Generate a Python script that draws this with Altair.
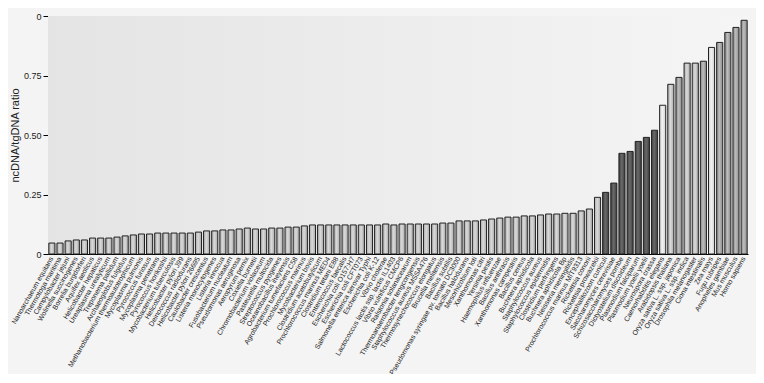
import altair as alt
import pandas as pd

species = [
    "Nanoarchaeum equitans", "Thermotoga maritima", "Campylobacter jejuni", "Wolinella succinogenes",
    "Borrelia burgdorferi", "Aquifex aeolicus", "Helicobacter hepaticus", "Ureaplasma urealyticum",
    "Treponema pallidum", "Archaeoglobus fulgidus", "Methanobacterium thermoautotrophicum",
    "Mycoplasma pulmonis", "Pyrococcus furiosus", "Mycoplasma penetrans", "Pyrococcus horikoshii",
    "Mycobacterium tuberculosis", "Helicobacter pylori J99", "Deinococcus radiodurans",
    "Helicobacter pylori 26695", "Caulobacter crescentus", "Listeria monocytogenes", "Listeria innocua",
    "Fusobacterium nucleatum", "Pseudomonas aeruginosa", "Aeropyrum pernix", "Coxiella burnetii",
    "Chromobacterium violaceum", "Pasteurella multocida", "Streptococcus pyogenes",
    "Oceanobacillus iheyensis", "Agrobacterium tumefaciens C58", "Prochlorococcus marinus",
    "Mycobacterium bovis", "Clostridium acetobutylicum", "Prochlorococcus marinus MED4",
    "Clostridium tetani E88", "Enterococcus faecalis", "Escherichia coli O157:H7",
    "Escherichia coli CFT073", "Salmonella enterica serovar Typhi", "Escherichia coli K-12",
    "Vibrio cholerae", "Lactococcus lactis ssp. lactis IL1403", "Vibrio vulnificus CMCP6",
    "Ralstonia solanacearum", "Thermoanaerobacter tengcongensis", "Staphylococcus aureus MSSA476",
    "Thermosynechococcus elongatus", "Brucella melitensis", "Bacillus subtilis",
    "Pseudomonas syringae pv. tomato DC3000", "Bacillus halodurans", "Mesorhizobium loti",
    "Xanthomonas citri", "Yersinia pestis", "Haemophilus influenzae", "Bacillus anthracis",
    "Xanthomonas campestris", "Bacillus cereus", "Buchnera aphidicola", "Staphylococcus aureus",
    "Staphylococcus epidermidis", "Clostridium perfringens", "Buchnera aphidicola Bp",
    "Neisseria meningitidis", "Prochlorococcus marinus MIT9313", "Rickettsia conorii",
    "Rickettsia prowazekii", "Encephalitozoon cuniculi", "Saccharomyces cerevisiae",
    "Schizosaccharomyces pombe", "Dictyostelium discoideum", "Plasmodium falciparum",
    "Plasmodium yoelii yoelii", "Neurospora crassa", "Caenorhabditis elegans", "Arabidopsis thaliana",
    "Oryza sativa L. ssp. japonica", "Oryza sativa L. ssp. indica", "Drosophila melanogaster",
    "Ciona intestinalis", "Zea mays", "Fugu rubripes", "Anopheles gambiae", "Mus musculus",
    "Homo sapiens",
]

ratio = [
    0.046, 0.046, 0.055, 0.059, 0.059, 0.067, 0.067, 0.067, 0.071, 0.076,
    0.080, 0.084, 0.084, 0.088, 0.088, 0.088, 0.088, 0.088, 0.092, 0.097,
    0.097, 0.101, 0.101, 0.105, 0.109, 0.105, 0.105, 0.109, 0.109, 0.113,
    0.113, 0.118, 0.122, 0.122, 0.122, 0.122, 0.122, 0.122, 0.122, 0.122,
    0.122, 0.126, 0.122, 0.126, 0.126, 0.126, 0.126, 0.126, 0.130, 0.130,
    0.139, 0.139, 0.139, 0.143, 0.147, 0.151, 0.155, 0.155, 0.160, 0.160,
    0.164, 0.168, 0.168, 0.171, 0.171, 0.181, 0.189, 0.238, 0.259, 0.298,
    0.423, 0.431, 0.473, 0.490, 0.520, 0.625, 0.713, 0.742, 0.802, 0.802,
    0.810, 0.868, 0.889, 0.931, 0.952, 0.982,
]

tone = (["light"] * 68 + ["dark"] * 7 +
        ["pale", "light", "mid", "light", "light", "mid", "pale", "mid", "mid", "mid", "mid"])

y_ticks = [0, 0.25, 0.5, 0.75, 1]

tone_colors = {
    "light": ("#a9a9a9", "#dadada"),
    "dark": ("#3e3e3e", "#6a6a6a"),
    "pale": ("#cfcfcf", "#f2f2f2"),
    "mid": ("#888888", "#bdbdbd"),
}

df = pd.DataFrame({"species": species, "ratio": ratio, "tone": tone})


def grad(edge, center):
    return alt.LinearGradient(
        gradient="linear", x1=0, x2=1, y1=0, y2=0,
        stops=[alt.GradientStop(color=edge, offset=0),
               alt.GradientStop(color=center, offset=0.45),
               alt.GradientStop(color=edge, offset=1)],
    )


W, H = 700, 238

bg = alt.Chart(pd.DataFrame({"k": [0]})).mark_rect(
    color=alt.LinearGradient(
        gradient="linear", x1=0, x2=1, y1=0, y2=0,
        stops=[alt.GradientStop(color="#e4e4e4", offset=0),
               alt.GradientStop(color="#f5f5f5", offset=1)],
    )
).encode(x=alt.value(0), x2=alt.value(W), y=alt.value(0), y2=alt.value(H))

base = alt.Chart(df).encode(
    x=alt.X("species:N", sort=species,
            scale=alt.Scale(paddingInner=0.25, paddingOuter=0.1),
            axis=alt.Axis(title=None, labelAngle=-60, labelFontSize=7, ticks=False,
                          labelPadding=3, domainColor="#000000", labelOverlap=False,
                          labelColor="#222222", labelFont="Liberation Sans")),
    y=alt.Y("ratio:Q", scale=alt.Scale(domain=[0, 1], nice=False),
            axis=alt.Axis(values=y_ticks, grid=False, title="ncDNA/tgDNA ratio",
                          labelExpr="datum.value == 1 ? '0' : (datum.value == 0 ? '0' : format(datum.value, '.2f'))",
                          domainColor="#000000", tickColor="#000000", tickSize=5,
                          labelFontSize=9, labelPadding=2, labelColor="#222222",
                          labelFont="Liberation Sans", titleFont="Liberation Sans",
                          titleFontSize=11, titleFontWeight="normal", titleColor="#222222",
                          titlePadding=3)),
)

layers = [bg]
for t, (edge, center) in tone_colors.items():
    layers.append(
        base.transform_filter(alt.datum.tone == t).mark_bar(
            color=grad(edge, center), stroke="#222222", strokeWidth=1
        )
    )

chart = alt.layer(*layers).properties(
    width=W, height=H,
    autosize=alt.AutoSizeParams(type="none"),
    padding={"left": 40, "top": 8, "right": 8, "bottom": 120},
    background="#f4f4f4",
).configure_view(stroke=None)

chart.save("out.html", embed_options={"renderer": "svg", "actions": False})
